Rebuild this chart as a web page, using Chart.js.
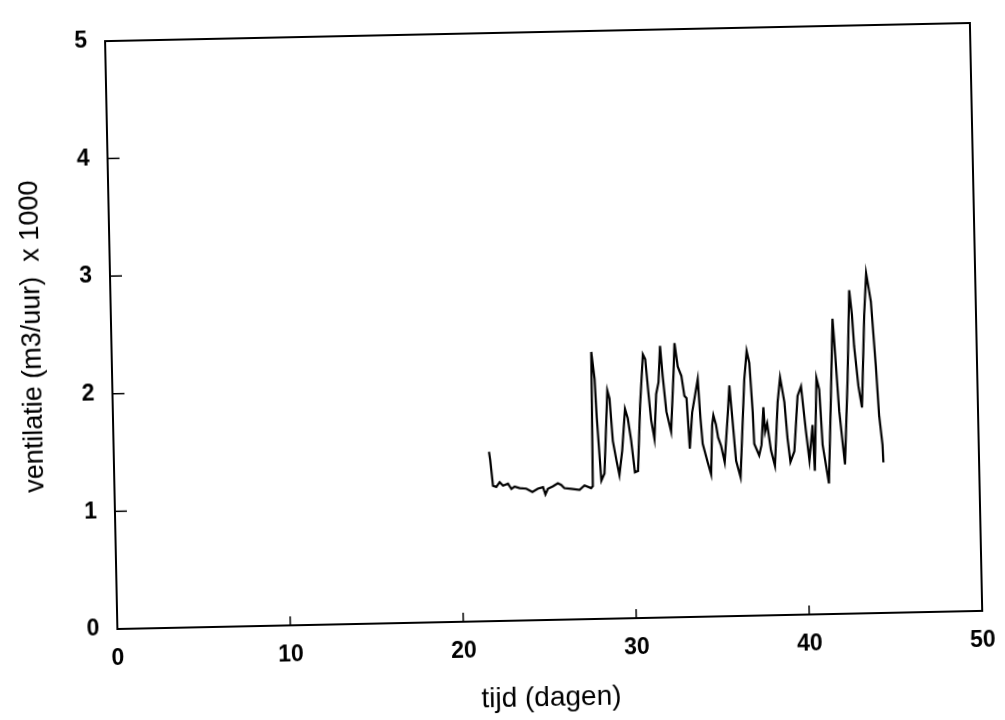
<!DOCTYPE html>
<html>
<head>
<meta charset="utf-8">
<script src="https://cdn.jsdelivr.net/npm/chart.js@4/dist/chart.umd.min.js"></script>
<style>
  html, body { margin: 0; padding: 0; background: #fff; }
  #wrap {
    position: absolute; left: 0; top: 0; width: 1005px; height: 720px;
    /* the scanned figure is slightly tilted */
    transform-origin: 543.75px 319.25px;
    transform: rotate(-1.2deg);
  }
</style>
</head>
<body>
<div id="wrap"><canvas id="myChart" width="1005" height="720"></canvas></div>
<script>
// tijd (dagen)
const days = [
  21.69, 21.75, 21.88, 22.07, 22.27, 22.46, 22.75, 22.94, 23.13, 23.42, 23.8, 24.15, 24.47, 24.77, 24.9, 25.05,
  25.34, 25.63, 25.82, 26.0, 26.4, 26.88, 27.17, 27.55, 27.65,
  27.72, 27.88, 27.96, 28.15, 28.34, 28.6, 28.72, 28.86, 29.05, 29.2, 29.39, 29.6, 29.75, 29.92, 30.1, 30.28,
  30.48, 30.7, 30.83, 30.97, 31.1, 31.27, 31.42, 31.57, 31.7, 31.82, 31.99, 32.24, 32.45, 32.54, 32.7, 32.9,
  33.05, 33.17, 33.3, 33.48, 33.84, 33.95, 34.05, 34.32, 34.5, 34.62, 34.7, 34.84, 34.95, 35.11, 35.3, 35.53,
  35.66, 35.78, 35.96, 36.2, 36.53, 36.7, 36.84, 36.98, 37.03, 37.3, 37.45, 37.6, 37.67, 37.8, 37.99, 38.2,
  38.43, 38.6, 38.82, 38.96, 39.1, 39.34, 39.59, 39.8, 40.03, 40.2, 40.42, 40.5, 40.7, 40.85, 40.98, 41.3,
  41.52, 41.7, 41.77, 41.98, 42.25, 42.5, 42.7, 42.83, 42.92, 43.12, 43.3, 43.54, 43.7, 43.94, 44.15, 44.28,
  44.44, 44.47
];
// ventilatie (m3/uur) x 1000
const ventilatie = [
  1.44, 1.37, 1.15, 1.14, 1.18, 1.15, 1.165, 1.12, 1.14, 1.125, 1.12, 1.09, 1.118, 1.13, 1.067, 1.115,
  1.135, 1.16, 1.146, 1.118, 1.11, 1.10, 1.137, 1.113, 1.13,
  2.27, 2.04, 1.71, 1.175, 1.235, 1.94, 1.87, 1.51, 1.34, 1.22, 1.425, 1.78, 1.70, 1.51, 1.24, 1.25,
  1.81, 2.24, 2.20, 1.92, 1.68, 1.52, 1.90, 2.0, 2.31, 2.05, 1.75, 1.58, 2.08, 2.33, 2.13, 2.05,
  1.88, 1.86, 1.43, 1.74, 2.02, 1.69, 1.47, 1.31, 1.21, 1.63, 1.71, 1.63, 1.52, 1.45, 1.31, 1.71,
  1.96, 1.71, 1.32, 1.18, 2.01, 2.25, 2.15, 1.73, 1.46, 1.36, 1.45, 1.77, 1.56, 1.63, 1.40, 1.27,
  1.81, 2.02, 1.81, 1.50, 1.30, 1.39, 1.86, 1.94, 1.56, 1.31, 1.61, 1.22, 2.01, 1.91, 1.44, 1.11,
  1.86, 2.51, 2.33, 1.72, 1.27, 1.99, 2.75, 2.54, 2.27, 1.93, 1.75, 2.54, 2.89, 2.65, 2.10, 1.68,
  1.43, 1.28
];
const xTickMarks = [10, 20, 30, 40];
const yTickMarks = [1, 2, 3, 4];

const tickFont = { family: 'Liberation Sans, Arial, sans-serif', size: 23, weight: 'bold' };

// small tick marks pointing into the plot
const innerTicks = {
  id: 'innerTicks',
  afterDraw(chart) {
    const ctx = chart.ctx, area = chart.chartArea;
    const x = chart.scales.x, y = chart.scales.y;
    ctx.save();
    ctx.strokeStyle = '#000';
    ctx.lineWidth = 1.5;
    xTickMarks.forEach(function (v) {
      const px = x.getPixelForValue(v);
      ctx.beginPath(); ctx.moveTo(px, area.bottom); ctx.lineTo(px, area.bottom - 9); ctx.stroke();
    });
    yTickMarks.forEach(function (v) {
      const py = y.getPixelForValue(v);
      ctx.beginPath(); ctx.moveTo(area.left, py); ctx.lineTo(area.left + 12, py); ctx.stroke();
    });
    ctx.restore();
  }
};

const points = days.map(function (d, i) { return { x: d, y: ventilatie[i] }; });

new Chart(document.getElementById('myChart'), {
  type: 'line',
  data: {
    datasets: [{
      data: points,
      borderColor: '#000',
      borderWidth: 2.2,
      pointRadius: 0,
      tension: 0,
      fill: false
    }]
  },
  options: {
    responsive: false,
    animation: false,
    layout: { padding: { top: 18, right: 29, left: 0, bottom: 0 } },
    plugins: { legend: { display: false }, tooltip: { enabled: false } },
    scales: {
      x: {
        type: 'linear', position: 'bottom', min: 0, max: 50,
        afterFit: function (s) { s.height = 100; },
        ticks: { stepSize: 10, color: '#000', font: tickFont, padding: 16, maxRotation: 0 },
        grid: { display: false, drawTicks: false },
        border: { display: true, color: '#000', width: 2 },
        title: {
          display: true, text: 'tijd (dagen)', color: '#000',
          font: { family: 'Liberation Sans, Arial, sans-serif', size: 28 },
          padding: { top: 0, bottom: 5 }
        }
      },
      y: {
        position: 'left', min: 0, max: 5,
        afterFit: function (s) { s.width = 111; },
        ticks: { stepSize: 1, color: '#000', font: tickFont, padding: 18 },
        grid: { display: false, drawTicks: false },
        border: { display: true, color: '#000', width: 2 },
        title: {
          display: true, text: 'ventilatie (m3/uur)  x 1000', color: '#000',
          font: { family: 'Liberation Sans, Arial, sans-serif', size: 27 },
          padding: { top: 16, bottom: 0 }
        }
      },
      x2: {
        type: 'linear', position: 'top', min: 0, max: 50,
        afterFit: function (s) { s.height = 0; },
        ticks: { display: false },
        grid: { display: false, drawTicks: false },
        border: { display: true, color: '#000', width: 2 }
      },
      y2: {
        position: 'right', min: 0, max: 5,
        afterFit: function (s) { s.width = 0; },
        ticks: { display: false },
        grid: { display: false, drawTicks: false },
        border: { display: true, color: '#000', width: 2 }
      }
    }
  },
  plugins: [innerTicks]
});
</script>
</body>
</html>
